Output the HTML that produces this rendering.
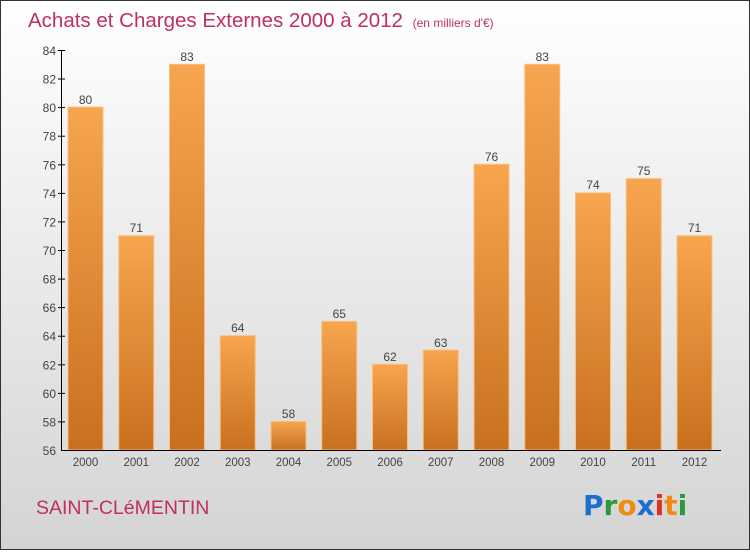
<!DOCTYPE html>
<html><head><style>
body{margin:0;width:750px;height:550px;overflow:hidden}
</style></head><body>
<svg width="750" height="550" xmlns="http://www.w3.org/2000/svg" font-family="Liberation Sans, sans-serif">
<defs>
<linearGradient id="bg" x1="0" y1="0" x2="0" y2="1"><stop offset="0" stop-color="#ffffff"/><stop offset="1" stop-color="#d4d4d4"/></linearGradient>
<linearGradient id="bar" x1="0" y1="0" x2="0" y2="1"><stop offset="0" stop-color="#f7a54f"/><stop offset="1" stop-color="#c8701e"/></linearGradient>
</defs>
<rect x="0.5" y="0.5" width="749" height="549" fill="url(#bg)" stroke="#333"/>
<text x="28" y="27" font-size="20.5" fill="#c0305c">Achats et Charges Externes 2000 à 2012 <tspan font-size="12" dx="4">(en milliers d'€)</tspan></text>
<g fill="url(#bar)" stroke="#f9c080" stroke-width="1">
<rect x="68" y="107.1" width="35" height="342.9"/>
<rect x="118.75" y="235.7" width="35" height="214.3"/>
<rect x="169.5" y="64.3" width="35" height="385.7"/>
<rect x="220.25" y="335.7" width="35" height="114.3"/>
<rect x="271" y="421.4" width="35" height="28.6"/>
<rect x="321.75" y="321.4" width="35" height="128.6"/>
<rect x="372.5" y="364.3" width="35" height="85.7"/>
<rect x="423.25" y="350" width="35" height="100"/>
<rect x="474" y="164.3" width="35" height="285.7"/>
<rect x="524.75" y="64.3" width="35" height="385.7"/>
<rect x="575.5" y="192.9" width="35" height="257.1"/>
<rect x="626.25" y="178.6" width="35" height="271.4"/>
<rect x="677" y="235.7" width="35" height="214.3"/>
</g>
<g font-size="12" fill="#444" text-anchor="middle">
<text x="85.5" y="104">80</text><text x="136.25" y="232">71</text><text x="187" y="61">83</text>
<text x="237.75" y="332">64</text><text x="288.5" y="418">58</text><text x="339.25" y="318">65</text>
<text x="390" y="361">62</text><text x="440.75" y="347">63</text><text x="491.5" y="161">76</text>
<text x="542.25" y="61">83</text><text x="593" y="189">74</text><text x="643.75" y="175">75</text><text x="694.5" y="232">71</text>
</g>
<g font-size="11.5" fill="#444" text-anchor="middle">
<text x="85.5" y="466">2000</text><text x="136.25" y="466">2001</text><text x="187" y="466">2002</text>
<text x="237.75" y="466">2003</text><text x="288.5" y="466">2004</text><text x="339.25" y="466">2005</text>
<text x="390" y="466">2006</text><text x="440.75" y="466">2007</text><text x="491.5" y="466">2008</text>
<text x="542.25" y="466">2009</text><text x="593" y="466">2010</text><text x="643.75" y="466">2011</text><text x="694.5" y="466">2012</text>
</g>
<g stroke="#000" stroke-width="1">
<line x1="61.5" y1="50" x2="61.5" y2="450"/>
<line x1="61" y1="450.5" x2="721" y2="450.5"/>
</g>
<g font-size="12" fill="#444" text-anchor="end">
<text x="56" y="55">84</text><text x="56" y="83.6">82</text><text x="56" y="112.1">80</text><text x="56" y="140.7">78</text>
<text x="56" y="169.3">76</text><text x="56" y="197.9">74</text><text x="56" y="226.4">72</text><text x="56" y="255">70</text>
<text x="56" y="283.6">68</text><text x="56" y="312.1">66</text><text x="56" y="340.7">64</text><text x="56" y="369.3">62</text>
<text x="56" y="397.9">60</text><text x="56" y="426.4">58</text><text x="56" y="455">56</text>
</g>
<g stroke="#000">
<line x1="58" y1="50.5" x2="65" y2="50.5"/><line x1="58" y1="79" x2="65" y2="79"/><line x1="58" y1="107.6" x2="65" y2="107.6"/>
<line x1="58" y1="136.2" x2="65" y2="136.2"/><line x1="58" y1="164.8" x2="65" y2="164.8"/><line x1="58" y1="193.4" x2="65" y2="193.4"/>
<line x1="58" y1="221.9" x2="65" y2="221.9"/><line x1="58" y1="250.5" x2="65" y2="250.5"/><line x1="58" y1="279.1" x2="65" y2="279.1"/>
<line x1="58" y1="307.6" x2="65" y2="307.6"/><line x1="58" y1="336.2" x2="65" y2="336.2"/><line x1="58" y1="364.8" x2="65" y2="364.8"/>
<line x1="58" y1="393.4" x2="65" y2="393.4"/><line x1="58" y1="421.9" x2="65" y2="421.9"/>
</g>
<text x="36" y="514" font-size="19.5" fill="#c0305c">SAINT-CLéMENTIN</text>
<g font-size="28" font-weight="bold" font-family="DejaVu Sans, sans-serif">
<text x="583" y="515"><tspan fill="#1a6fcf">P</tspan><tspan fill="#2a9a3a">r</tspan><tspan fill="#f08a10">o</tspan><tspan fill="#1a6fcf">x</tspan><tspan fill="#e03020">i</tspan><tspan fill="#f08a10">t</tspan><tspan fill="#2a9a3a">i</tspan></text>
</g>
</svg>
</body></html>
